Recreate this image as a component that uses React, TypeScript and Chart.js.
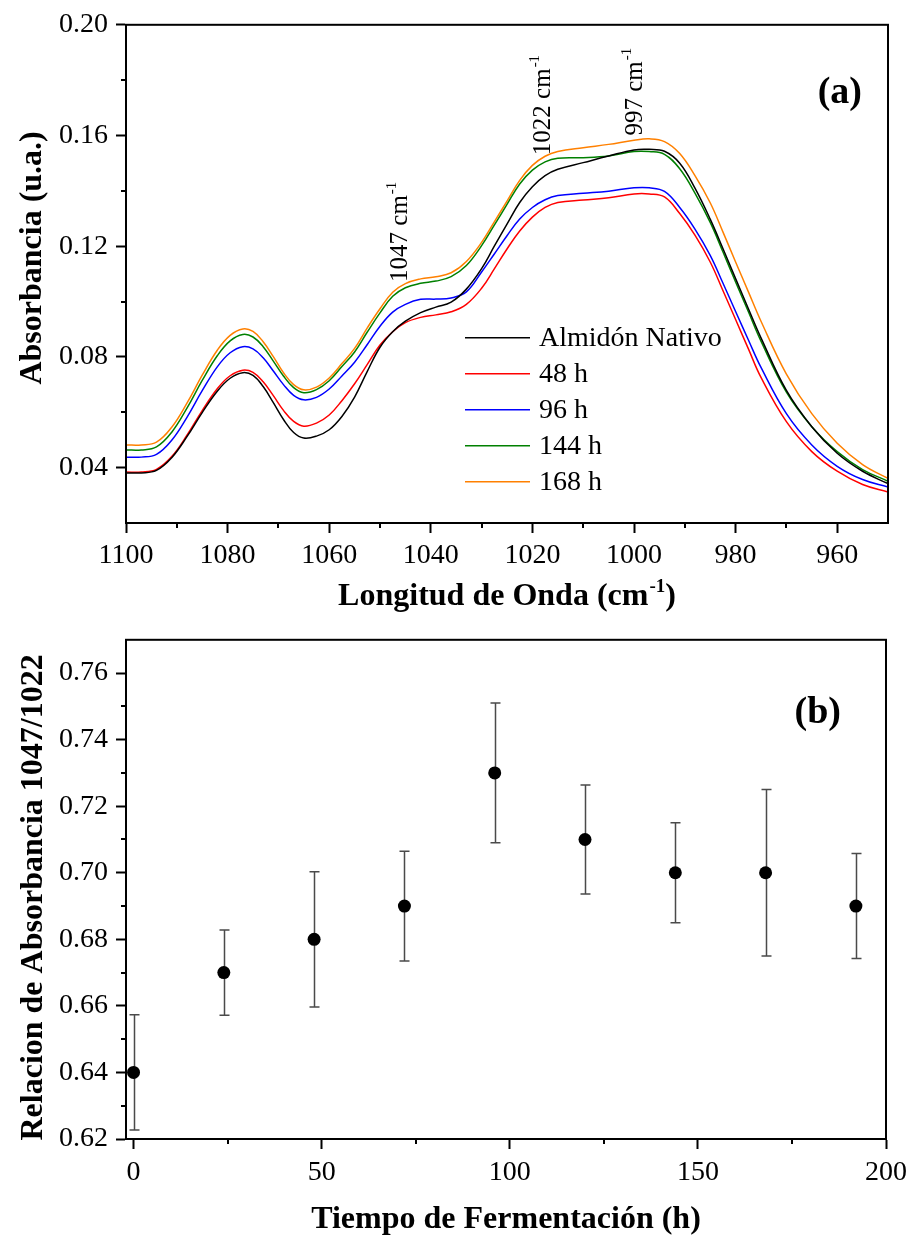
import React, { useEffect, useRef } from 'react';
import { Chart, registerables } from 'chart.js';

Chart.register(...registerables);

const SERIF = "'Liberation Serif', 'Times New Roman', serif";

// ---------- Panel (a): FTIR spectra ----------
const wavenumbers = [1100, 1097, 1094, 1091, 1088, 1085, 1082, 1079.5, 1077, 1075, 1073, 1071, 1069, 1067, 1065, 1062.5, 1060, 1057.5, 1055, 1052.5, 1050, 1047.5, 1045, 1042, 1039, 1036, 1033, 1030, 1027.5, 1025, 1022.5, 1020, 1017.5, 1015, 1010, 1005, 1000, 997, 994, 991, 988, 985, 982.5, 980, 977.5, 975, 970, 965, 960, 955, 950];

const seriesLabels = ['Almidón Nativo', '48 h', '96 h', '144 h', '168 h'];
const seriesColors = ['#000000', '#ff0000', '#0000ff', '#008000', '#ff8000'];

const absNativo = [0.0381, 0.0381, 0.0390, 0.0436, 0.0512, 0.0599, 0.0677, 0.0723, 0.0743, 0.0733, 0.0693, 0.0635, 0.0574, 0.0527, 0.0507, 0.0514, 0.0537, 0.0585, 0.0655, 0.0748, 0.0835, 0.0891, 0.0929, 0.0960, 0.0980, 0.0998, 0.1045, 0.1119, 0.1200, 0.1280, 0.1358, 0.1415, 0.1455, 0.1478, 0.1502, 0.1526, 0.1548, 0.1550, 0.1543, 0.1500, 0.1410, 0.1298, 0.1192, 0.1083, 0.0975, 0.0869, 0.0679, 0.0548, 0.0452, 0.0387, 0.0342];
const abs48 = [0.0384, 0.0384, 0.0394, 0.0440, 0.0517, 0.0606, 0.0686, 0.0732, 0.0752, 0.0744, 0.0710, 0.0660, 0.0607, 0.0567, 0.0550, 0.0561, 0.0590, 0.0642, 0.0703, 0.0773, 0.0843, 0.0891, 0.0924, 0.0943, 0.0952, 0.0963, 0.0990, 0.1048, 0.1118, 0.1190, 0.1255, 0.1305, 0.1340, 0.1358, 0.1367, 0.1375, 0.1389, 0.1389, 0.1378, 0.1318, 0.1240, 0.1143, 0.1040, 0.0935, 0.0830, 0.0726, 0.0566, 0.0458, 0.0387, 0.0339, 0.0312];
const abs96 = [0.0438, 0.0438, 0.0448, 0.0499, 0.0582, 0.0678, 0.0765, 0.0815, 0.0837, 0.0829, 0.0797, 0.0749, 0.0700, 0.0661, 0.0645, 0.0654, 0.0684, 0.0731, 0.0781, 0.0845, 0.0911, 0.0962, 0.0990, 0.1008, 0.1009, 0.1013, 0.1035, 0.1107, 0.1172, 0.1238, 0.1298, 0.1340, 0.1368, 0.1383, 0.1391, 0.1399, 0.1411, 0.1411, 0.1398, 0.1340, 0.1262, 0.1167, 0.1067, 0.0964, 0.0862, 0.0762, 0.0595, 0.0482, 0.0405, 0.0357, 0.0330];
const abs144 = [0.0464, 0.0464, 0.0475, 0.0528, 0.0615, 0.0715, 0.0805, 0.0858, 0.0881, 0.0872, 0.0837, 0.0785, 0.0731, 0.0689, 0.0671, 0.0682, 0.0714, 0.0765, 0.0818, 0.0890, 0.0959, 0.1019, 0.1050, 0.1066, 0.1074, 0.1090, 0.1130, 0.1202, 0.1276, 0.1351, 0.1425, 0.1475, 0.1505, 0.1518, 0.1520, 0.1526, 0.1542, 0.1542, 0.1532, 0.1480, 0.1392, 0.1286, 0.1180, 0.1071, 0.0964, 0.0857, 0.0673, 0.0548, 0.0458, 0.0393, 0.0351];
const abs168 = [0.0482, 0.0482, 0.0492, 0.0546, 0.0633, 0.0734, 0.0825, 0.0878, 0.0901, 0.0892, 0.0855, 0.0801, 0.0743, 0.0700, 0.0681, 0.0691, 0.0724, 0.0776, 0.0831, 0.0905, 0.0974, 0.1034, 0.1065, 0.1082, 0.1090, 0.1104, 0.1145, 0.1214, 0.1288, 0.1363, 0.1438, 0.1492, 0.1525, 0.1542, 0.1556, 0.1568, 0.1583, 0.1588, 0.1578, 0.1535, 0.1455, 0.1357, 0.1252, 0.1143, 0.1036, 0.0929, 0.0738, 0.0595, 0.0488, 0.0411, 0.0361];

const spectraTicksX = [1100, 1080, 1060, 1040, 1020, 1000, 980, 960];
const spectraMinorX = [1090, 1070, 1050, 1030, 1010, 990, 970];
const spectraTicksY = [0.04, 0.08, 0.12, 0.16, 0.2];
const spectraMinorY = [0.06, 0.1, 0.14, 0.18];
const peakLabels = ['1047', '1022', '997'];

// ---------- Panel (b): absorbance ratio ----------
const fermentTimes = [0, 24, 48, 72, 96, 120, 144, 168, 192];
const ratioValues = [0.64, 0.67, 0.68, 0.69, 0.73, 0.71, 0.70, 0.70, 0.69];
const ratioErrors = [0.0173, 0.0128, 0.0203, 0.0165, 0.021, 0.0164, 0.015, 0.025, 0.0158];

const ratioTicksX = [0, 50, 100, 150, 200];
const ratioMinorX = [25, 75, 125, 175];
const ratioTicksY = [0.62, 0.64, 0.66, 0.68, 0.70, 0.72, 0.74, 0.76];
const ratioMinorY = [0.63, 0.65, 0.67, 0.69, 0.71, 0.73, 0.75];

const spectraSeries = [absNativo, abs48, abs96, abs144, abs168];

function drawSupText(
  ctx: CanvasRenderingContext2D,
  main: string,
  sup: string,
  tail: string,
  mainFont: string,
  supFont: string,
  supRise: number,
  align: 'left' | 'center'
) {
  ctx.font = mainFont;
  const w1 = ctx.measureText(main).width;
  const w3 = ctx.measureText(tail).width;
  ctx.font = supFont;
  const w2 = ctx.measureText(sup).width;
  const total = w1 + w2 + w3 + 1;
  const x0 = align === 'center' ? -total / 2 : 0;
  ctx.textAlign = 'left';
  ctx.textBaseline = 'alphabetic';
  ctx.font = mainFont;
  ctx.fillText(main, x0, 0);
  ctx.font = supFont;
  ctx.fillText(sup, x0 + w1 + 1, -supRise);
  ctx.font = mainFont;
  if (tail) ctx.fillText(tail, x0 + w1 + w2 + 1, 0);
}

const framePlugin = {
  id: 'frame',
  afterDraw(chart: any, _args: any, opts: any) {
    const { ctx, chartArea: a } = chart;
    const xs = chart.scales.x;
    const ys = chart.scales.y;
    ctx.save();
    ctx.strokeStyle = '#000';
    ctx.lineWidth = 2;
    ctx.strokeRect(a.left, a.top, a.right - a.left, a.bottom - a.top);
    ctx.beginPath();
    (opts.minorX || []).forEach((v: number) => {
      const px = Math.round(xs.getPixelForValue(v));
      ctx.moveTo(px, a.bottom);
      ctx.lineTo(px, a.bottom + 5);
    });
    (opts.minorY || []).forEach((v: number) => {
      const py = Math.round(ys.getPixelForValue(v));
      ctx.moveTo(a.left, py);
      ctx.lineTo(a.left - 5, py);
    });
    ctx.stroke();

    ctx.fillStyle = '#000';
    if (opts.panel) {
      ctx.font = `bold 38px ${SERIF}`;
      ctx.textAlign = 'right';
      ctx.textBaseline = 'alphabetic';
      ctx.fillText(opts.panel.text, a.right - opts.panel.dx, a.top + opts.panel.dy);
    }
    if (opts.yTitle) {
      ctx.save();
      ctx.translate(opts.yTitle.x, (a.top + a.bottom) / 2 + opts.yTitle.shift);
      ctx.rotate(-Math.PI / 2);
      ctx.font = `bold 32px ${SERIF}`;
      ctx.textAlign = 'center';
      ctx.textBaseline = 'alphabetic';
      ctx.fillText(opts.yTitle.text, 0, 0);
      ctx.restore();
    }
    if (opts.xTitle) {
      ctx.save();
      ctx.translate((a.left + a.right) / 2, a.bottom + opts.xTitle.dy);
      drawSupText(ctx, opts.xTitle.main, opts.xTitle.sup, opts.xTitle.tail, `bold 32px ${SERIF}`, `bold 19px ${SERIF}`, 13, 'center');
      ctx.restore();
    }
    (opts.peaks || []).forEach((p: any) => {
      ctx.save();
      ctx.translate(xs.getPixelForValue(p.x), ys.getPixelForValue(p.y));
      ctx.rotate(-Math.PI / 2);
      drawSupText(ctx, p.text + ' cm', '-1', '', `25px ${SERIF}`, `15px ${SERIF}`, 11, 'left');
      ctx.restore();
    });
    if (opts.legend) {
      const L = opts.legend;
      chart.data.datasets.forEach((ds: any, i: number) => {
        const y = a.top + L.dy + i * L.step;
        ctx.strokeStyle = ds.borderColor;
        ctx.lineWidth = 1.5;
        ctx.beginPath();
        ctx.moveTo(a.left + L.dx, y);
        ctx.lineTo(a.left + L.dx + L.len, y);
        ctx.stroke();
        ctx.font = `28px ${SERIF}`;
        ctx.textAlign = 'left';
        ctx.textBaseline = 'middle';
        ctx.fillStyle = '#000';
        ctx.fillText(ds.label, a.left + L.dx + L.len + 9, y + 1);
      });
    }
    ctx.restore();
  },
};

const errorBarPlugin = {
  id: 'errorBars',
  beforeDatasetsDraw(chart: any) {
    const { ctx } = chart;
    const xs = chart.scales.x;
    const ys = chart.scales.y;
    ctx.save();
    ctx.strokeStyle = '#4a4a4a';
    ctx.lineWidth = 1.5;
    fermentTimes.forEach((t, i) => {
      const px = Math.round(xs.getPixelForValue(t)) + 0.5;
      const top = ys.getPixelForValue(ratioValues[i] + ratioErrors[i]);
      const bot = ys.getPixelForValue(ratioValues[i] - ratioErrors[i]);
      ctx.beginPath();
      ctx.moveTo(px, top);
      ctx.lineTo(px, bot);
      ctx.moveTo(px - 5, top);
      ctx.lineTo(px + 5, top);
      ctx.moveTo(px - 5, bot);
      ctx.lineTo(px + 5, bot);
      ctx.stroke();
    });
    ctx.restore();
  },
};

function axisCommon() {
  return {
    grid: { display: true, drawOnChartArea: false, drawTicks: true, tickLength: 10, tickWidth: 2, tickColor: '#000' },
    border: { display: true, color: '#000', width: 2 },
  };
}

export default function App() {
  const topRef = useRef<HTMLCanvasElement>(null);
  const botRef = useRef<HTMLCanvasElement>(null);

  useEffect(() => {
    Chart.defaults.font.family = SERIF;
    Chart.defaults.color = '#000';

    const topChart = new Chart(topRef.current as HTMLCanvasElement, {
      type: 'line',
      data: {
        datasets: spectraSeries.map((vals, si) => ({
          label: seriesLabels[si],
          data: wavenumbers.map((w, i) => ({ x: w, y: vals[i] })),
          borderColor: seriesColors[si],
          backgroundColor: seriesColors[si],
          borderWidth: 1.5,
          pointRadius: 0,
          fill: false,
          tension: 0.4,
        })),
      },
      options: {
        responsive: false,
        animation: false,
        events: [],
        layout: { padding: { top: 20, right: 26, left: 0, bottom: 0 } },
        plugins: {
          legend: { display: false },
          tooltip: { enabled: false },
          frame: {
            minorX: spectraMinorX,
            minorY: spectraMinorY,
            panel: { text: '(a)', dx: 26, dy: 78 },
            yTitle: { text: 'Absorbancia (u.a.)', x: 41, shift: -16 },
            xTitle: { main: 'Longitud de Onda (cm', sup: '-1', tail: ')', dy: 82 },
            peaks: [
              { text: peakLabels[0], x: 1044.7, y: 0.1071 },
              { text: peakLabels[1], x: 1016.6, y: 0.1529 },
              { text: peakLabels[2], x: 998.5, y: 0.16 },
            ],
            legend: { dx: 339, dy: 313, step: 36, len: 65 },
          },
        } as any,
        scales: {
          x: {
            type: 'linear',
            reverse: true,
            min: 950,
            max: 1100,
            ...axisCommon(),
            afterBuildTicks: (s: any) => {
              s.ticks = spectraTicksX.map((v) => ({ value: v }));
            },
            afterFit: (s: any) => {
              s.height = 92;
            },
            ticks: { font: { size: 28 }, padding: 6, maxRotation: 0, callback: (v: any) => String(v) },
          },
          y: {
            type: 'linear',
            min: 0.02,
            max: 0.2,
            ...axisCommon(),
            afterBuildTicks: (s: any) => {
              s.ticks = spectraTicksY.map((v) => ({ value: v }));
            },
            afterFit: (s: any) => {
              s.width = 126;
            },
            ticks: { font: { size: 28 }, padding: 8, callback: (v: any) => Number(v).toFixed(2) },
          },
        },
      } as any,
      plugins: [framePlugin],
    });

    const botChart = new Chart(botRef.current as HTMLCanvasElement, {
      type: 'scatter',
      data: {
        datasets: [
          {
            label: 'Relacion 1047/1022',
            data: fermentTimes.map((t, i) => ({ x: t, y: ratioValues[i] })),
            backgroundColor: '#000',
            borderColor: '#000',
            pointRadius: 6.5,
            pointBorderWidth: 0,
          },
        ],
      },
      options: {
        responsive: false,
        animation: false,
        events: [],
        layout: { padding: { top: 23, right: 26, left: 0, bottom: 0 } },
        plugins: {
          legend: { display: false },
          tooltip: { enabled: false },
          frame: {
            minorX: ratioMinorX,
            minorY: ratioMinorY,
            panel: { text: '(b)', dx: 45, dy: 83 },
            yTitle: { text: 'Relacion de Absorbancia 1047/1022', x: 42, shift: 8 },
          },
        } as any,
        scales: {
          x: {
            type: 'linear',
            min: -2,
            max: 200,
            ...axisCommon(),
            afterBuildTicks: (s: any) => {
              s.ticks = ratioTicksX.map((v) => ({ value: v }));
            },
            afterFit: (s: any) => {
              s.height = 100;
            },
            ticks: { font: { size: 28 }, padding: 7, maxRotation: 0, callback: (v: any) => String(v) },
            title: {
              display: true,
              text: 'Tiempo de Fermentación (h)',
              font: { size: 32, weight: 'bold' },
              padding: { top: 0, bottom: 0 },
            },
          },
          y: {
            type: 'linear',
            min: 0.62,
            max: 0.77,
            ...axisCommon(),
            afterBuildTicks: (s: any) => {
              s.ticks = ratioTicksY.map((v) => ({ value: v }));
            },
            afterFit: (s: any) => {
              s.width = 126;
            },
            ticks: { font: { size: 28 }, padding: 8, callback: (v: any) => Number(v).toFixed(2) },
          },
        },
      } as any,
      plugins: [framePlugin, errorBarPlugin],
    });

    return () => {
      topChart.destroy();
      botChart.destroy();
    };
  }, []);

  return (
    <div style={{ position: 'absolute', left: 0, top: 0, width: 914, height: 1239, background: '#fff' }}>
      <canvas ref={topRef} width={914} height={615} style={{ position: 'absolute', left: 0, top: 0, width: 914, height: 615 }} />
      <canvas ref={botRef} width={914} height={624} style={{ position: 'absolute', left: 0, top: 615, width: 914, height: 624 }} />
    </div>
  );
}
